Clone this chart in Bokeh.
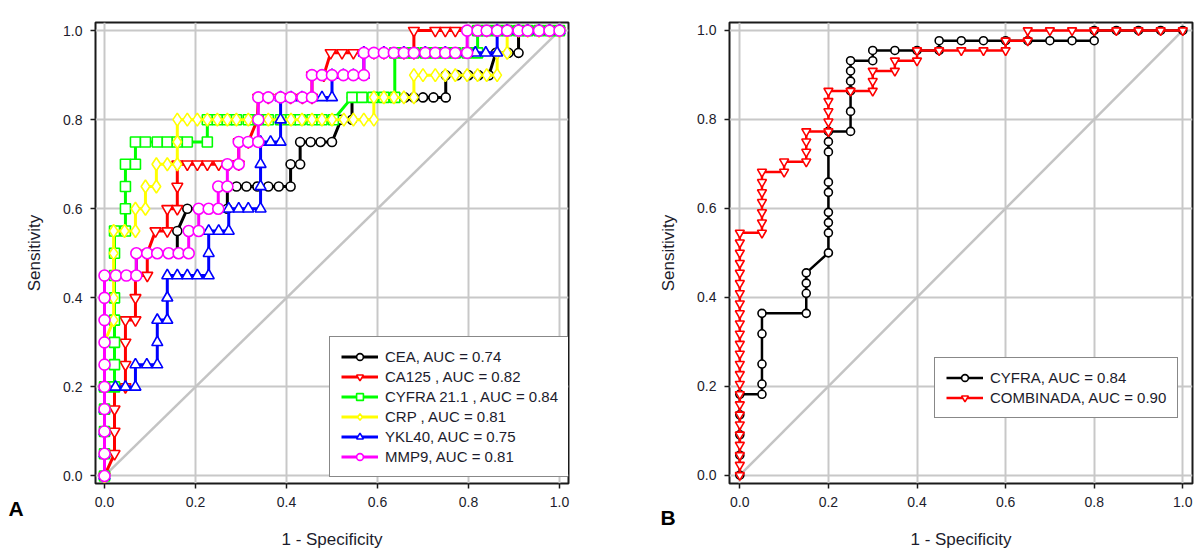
from bokeh.plotting import figure
from bokeh.models import (Range1d, FixedTicker, Legend, LegendItem, Div,
                          NumeralTickFormatter, GridBox)
from bokeh.embed import file_html
from bokeh.resources import INLINE

FONT = "Liberation Sans"
TXT = "#1c1c2c"
TICKS = [0.0, 0.2, 0.4, 0.6, 0.8, 1.0]
DIAG_X = [0.0, 1.0]
DIAG_Y = [0.0, 1.0]

# ---------------- Panel A ----------------
CEA_X = [0, 0, 0, 0, 0, 0, 0, 0, 0, 0,
         0.07, 0.07, 0.116, 0.16, 0.16, 0.182, 0.207, 0.229, 0.25, 0.27,
         0.27, 0.29, 0.312, 0.336, 0.36, 0.383, 0.409, 0.409, 0.43, 0.43,
         0.453, 0.475, 0.5, 0.52, 0.544, 0.544, 0.566, 0.59, 0.614, 0.636,
         0.66, 0.68, 0.70, 0.723, 0.75, 0.75, 0.775, 0.80, 0.822, 0.845,
         0.86, 0.888, 0.91, 0.91, 0.955, 1.0]
CEA_Y = [0, 0.05, 0.1, 0.15, 0.2, 0.25, 0.3, 0.35, 0.4, 0.45,
         0.45, 0.5, 0.5, 0.5, 0.55, 0.6, 0.6, 0.6, 0.6, 0.6,
         0.65, 0.65, 0.65, 0.65, 0.65, 0.65, 0.65, 0.7, 0.7, 0.75,
         0.75, 0.75, 0.75, 0.8, 0.8, 0.85, 0.85, 0.85, 0.85, 0.85,
         0.85, 0.85, 0.85, 0.85, 0.85, 0.9, 0.9, 0.9, 0.9, 0.9,
         0.95, 0.95, 0.95, 1.0, 1.0, 1.0]

CA125_X = [0, 0.022, 0.022, 0.022, 0.022, 0.046, 0.046, 0.046, 0.046, 0.068,
           0.068, 0.068, 0.094, 0.094, 0.112, 0.138, 0.138, 0.16, 0.16, 0.16,
           0.182, 0.204, 0.226, 0.251, 0.273, 0.295, 0.295, 0.316, 0.336, 0.338,
           0.36, 0.387, 0.409, 0.435, 0.456, 0.456, 0.482, 0.497, 0.522, 0.547,
           0.57, 0.592, 0.614, 0.636, 0.658, 0.68, 0.68, 0.727, 0.749, 0.771,
           0.797, 0.82, 0.84, 0.863, 0.885, 0.91, 0.93, 0.955, 0.978, 1.0]
CA125_Y = [0, 0.05, 0.1, 0.15, 0.2, 0.2, 0.25, 0.3, 0.35, 0.35,
           0.4, 0.45, 0.45, 0.5, 0.55, 0.55, 0.6, 0.6, 0.65, 0.7,
           0.7, 0.7, 0.7, 0.7, 0.7, 0.7, 0.75, 0.75, 0.8, 0.85,
           0.85, 0.85, 0.85, 0.85, 0.85, 0.9, 0.9, 0.95, 0.95, 0.95,
           0.95, 0.95, 0.95, 0.95, 0.95, 0.95, 1.0, 1.0, 1.0, 1.0,
           1.0, 1.0, 1.0, 1.0, 1.0, 1.0, 1.0, 1.0, 1.0, 1.0]

CYFRA_X = [0, 0, 0, 0, 0, 0.022, 0.022, 0.022, 0.022, 0.022,
           0.022, 0.022, 0.022, 0.046, 0.046, 0.046, 0.046, 0.068, 0.068, 0.09,
           0.116, 0.138, 0.16, 0.182, 0.226, 0.226, 0.248, 0.27, 0.29, 0.316,
           0.338, 0.36, 0.387, 0.41, 0.43, 0.456, 0.478, 0.503, 0.544, 0.566,
           0.59, 0.614, 0.638, 0.638, 0.66, 0.68, 0.705, 0.727, 0.749, 0.771,
           0.797, 0.82, 0.82, 0.84, 0.863, 0.885, 0.91, 0.93, 0.955, 0.978,
           1.0]
CYFRA_Y = [0, 0.05, 0.1, 0.15, 0.2, 0.2, 0.25, 0.3, 0.35, 0.4,
           0.45, 0.5, 0.55, 0.55, 0.6, 0.65, 0.7, 0.7, 0.75, 0.75,
           0.75, 0.75, 0.75, 0.75, 0.75, 0.8, 0.8, 0.8, 0.8, 0.8,
           0.8, 0.8, 0.8, 0.8, 0.8, 0.8, 0.8, 0.8, 0.85, 0.85,
           0.85, 0.85, 0.85, 0.95, 0.95, 0.95, 0.95, 0.95, 0.95, 0.95,
           0.95, 0.95, 1.0, 1.0, 1.0, 1.0, 1.0, 1.0, 1.0, 1.0,
           1.0]

CRP_X = [0, 0, 0, 0, 0, 0, 0, 0.02, 0.02, 0.02,
         0.02, 0.02, 0.044, 0.068, 0.068, 0.09, 0.09, 0.114, 0.114, 0.138,
         0.16, 0.16, 0.16, 0.182, 0.204, 0.226, 0.248, 0.27, 0.29, 0.316,
         0.338, 0.36, 0.387, 0.41, 0.434, 0.456, 0.478, 0.5, 0.526, 0.547,
         0.57, 0.592, 0.592, 0.614, 0.636, 0.658, 0.68, 0.68, 0.70, 0.727,
         0.749, 0.771, 0.797, 0.82, 0.84, 0.863, 0.863, 0.885, 0.885, 0.91,
         0.93, 0.955, 0.978, 1.0]
CRP_Y = [0, 0.05, 0.1, 0.15, 0.2, 0.25, 0.3, 0.35, 0.4, 0.45,
         0.5, 0.55, 0.55, 0.55, 0.6, 0.6, 0.65, 0.65, 0.7, 0.7,
         0.7, 0.75, 0.8, 0.8, 0.8, 0.8, 0.8, 0.8, 0.8, 0.8,
         0.8, 0.8, 0.8, 0.8, 0.8, 0.8, 0.8, 0.8, 0.8, 0.8,
         0.8, 0.8, 0.85, 0.85, 0.85, 0.85, 0.85, 0.9, 0.9, 0.9,
         0.9, 0.9, 0.9, 0.9, 0.9, 0.9, 0.95, 0.95, 1.0, 1.0,
         1.0, 1.0, 1.0, 1.0]

YKL40_X = [0, 0, 0, 0, 0, 0.024, 0.046, 0.068, 0.068, 0.093,
           0.116, 0.116, 0.116, 0.138, 0.138, 0.138, 0.16, 0.182, 0.204, 0.229,
           0.229, 0.229, 0.251, 0.273, 0.273, 0.295, 0.316, 0.343, 0.343, 0.343,
           0.343, 0.365, 0.387, 0.387, 0.387, 0.41, 0.434, 0.456, 0.478, 0.5,
           0.5, 0.525, 0.547, 0.57, 0.57, 0.614, 0.658, 0.705, 0.749, 0.797,
           0.815, 0.838, 0.863, 0.863, 0.885, 0.91, 0.93, 0.955, 0.978, 1.0]
YKL40_Y = [0, 0.05, 0.1, 0.15, 0.2, 0.2, 0.2, 0.2, 0.25, 0.25,
           0.25, 0.3, 0.35, 0.35, 0.4, 0.45, 0.45, 0.45, 0.45, 0.45,
           0.5, 0.55, 0.55, 0.55, 0.6, 0.6, 0.6, 0.6, 0.65, 0.7,
           0.75, 0.75, 0.75, 0.8, 0.85, 0.85, 0.85, 0.85, 0.85, 0.85,
           0.9, 0.9, 0.9, 0.9, 0.95, 0.95, 0.95, 0.95, 0.95, 0.95,
           0.95, 0.95, 0.95, 1.0, 1.0, 1.0, 1.0, 1.0, 1.0, 1.0]

MMP9_X = [0, 0, 0, 0, 0, 0, 0, 0, 0, 0,
          0.025, 0.048, 0.07, 0.07, 0.094, 0.116, 0.141, 0.163, 0.185, 0.185,
          0.207, 0.207, 0.229, 0.25, 0.25, 0.27, 0.27, 0.295, 0.295, 0.316,
          0.338, 0.338, 0.338, 0.36, 0.387, 0.409, 0.435, 0.456, 0.456, 0.478,
          0.5, 0.525, 0.547, 0.57, 0.57, 0.592, 0.614, 0.636, 0.658, 0.68,
          0.705, 0.727, 0.749, 0.771, 0.797, 0.797, 0.82, 0.84, 0.863, 0.885,
          0.91, 0.93, 0.955, 0.978, 1.0]
MMP9_Y = [0, 0.05, 0.1, 0.15, 0.2, 0.25, 0.3, 0.35, 0.4, 0.45,
          0.45, 0.45, 0.45, 0.5, 0.5, 0.5, 0.5, 0.5, 0.5, 0.55,
          0.55, 0.6, 0.6, 0.6, 0.65, 0.65, 0.7, 0.7, 0.75, 0.75,
          0.75, 0.8, 0.85, 0.85, 0.85, 0.85, 0.85, 0.85, 0.9, 0.9,
          0.9, 0.9, 0.9, 0.9, 0.95, 0.95, 0.95, 0.95, 0.95, 0.95,
          0.95, 0.95, 0.95, 0.95, 0.95, 1.0, 1.0, 1.0, 1.0, 1.0,
          1.0, 1.0, 1.0, 1.0, 1.0]

A_LABELS = ["CEA, AUC = 0.74", "CA125 , AUC = 0.82", "CYFRA 21.1 , AUC = 0.84",
            "CRP , AUC = 0.81", "YKL40, AUC = 0.75", "MMP9, AUC = 0.81"]
A_COLORS = ["#000000", "#ff0000", "#00ff00", "#ffff00", "#0000ff", "#ff00ff"]
A_MARKERS = ["circle", "inverted_triangle", "square", "diamond", "triangle", "circle"]
A_SIZES = [9, 11, 10, 13, 11, 11]
A_SERIES = [(CEA_X, CEA_Y), (CA125_X, CA125_Y), (CYFRA_X, CYFRA_Y),
            (CRP_X, CRP_Y), (YKL40_X, YKL40_Y), (MMP9_X, MMP9_Y)]

# ---------------- Panel B ----------------
CYFRA_B_X = [0, 0, 0, 0, 0, 0.05, 0.05, 0.05, 0.05, 0.05,
             0.15, 0.15, 0.15, 0.15, 0.2, 0.2, 0.2, 0.2, 0.2, 0.2,
             0.2, 0.2, 0.2, 0.25, 0.25, 0.25, 0.25, 0.25, 0.25, 0.3,
             0.3, 0.35, 0.4, 0.45, 0.45, 0.5, 0.55, 0.6, 0.65, 0.7,
             0.75, 0.8, 0.8, 0.85, 0.9, 0.95, 1.0]
CYFRA_B_Y = [0, 0.045, 0.091, 0.136, 0.182, 0.182, 0.205, 0.25, 0.318, 0.364,
             0.364, 0.409, 0.432, 0.455, 0.5, 0.545, 0.568, 0.591, 0.636, 0.659,
             0.727, 0.75, 0.773, 0.773, 0.818, 0.864, 0.886, 0.909, 0.932, 0.932,
             0.955, 0.955, 0.955, 0.955, 0.977, 0.977, 0.977, 0.977, 0.977, 0.977,
             0.977, 0.977, 1.0, 1.0, 1.0, 1.0, 1.0]

COMB_X = [0, 0, 0, 0, 0, 0, 0, 0, 0, 0,
          0, 0, 0, 0, 0, 0, 0, 0, 0, 0,
          0, 0, 0, 0, 0,
          0.05, 0.05, 0.05, 0.05, 0.05, 0.05, 0.05,
          0.1, 0.1,
          0.15, 0.15, 0.15, 0.15,
          0.2, 0.2, 0.2, 0.2, 0.2,
          0.25,
          0.3, 0.3, 0.3,
          0.35, 0.35,
          0.4, 0.4,
          0.45, 0.5, 0.55,
          0.6, 0.6,
          0.65, 0.65,
          0.7, 0.75, 0.8, 0.85, 0.9, 0.95, 1.0]
COMB_Y = [0, 0.023, 0.045, 0.068, 0.091, 0.114, 0.136, 0.159, 0.182, 0.205,
          0.227, 0.25, 0.273, 0.295, 0.318, 0.341, 0.364, 0.386, 0.409, 0.432,
          0.455, 0.477, 0.5, 0.523, 0.545,
          0.545, 0.568, 0.591, 0.614, 0.636, 0.659, 0.682,
          0.682, 0.705,
          0.705, 0.727, 0.75, 0.773,
          0.773, 0.795, 0.818, 0.841, 0.864,
          0.864,
          0.864, 0.886, 0.909,
          0.909, 0.932,
          0.932, 0.955,
          0.955, 0.955, 0.955,
          0.955, 0.977,
          0.977, 1.0,
          1.0, 1.0, 1.0, 1.0, 1.0, 1.0, 1.0]

B_LABELS = ["CYFRA, AUC = 0.84", "COMBINADA, AUC = 0.90"]
B_COLORS = ["#000000", "#ff0000"]
B_MARKERS = ["circle", "inverted_triangle"]
B_SIZES = [8, 9]
B_SERIES = [(CYFRA_B_X, CYFRA_B_Y), (COMB_X, COMB_Y)]

PANEL_TAGS = ["A", "B"]


def make_panel(width, mb, xr, yr, series, labels, colors, markers, sizes, lw,
               legend_loc):
    p = figure(width=width, height=552, output_backend="svg", toolbar_location=None,
               x_range=Range1d(*xr), y_range=Range1d(*yr),
               min_border_left=mb[0], min_border_right=mb[1],
               min_border_top=mb[2], min_border_bottom=mb[3])
    p.background_fill_color = "white"
    p.border_fill_color = "white"
    p.outline_line_color = "#1a1a1a"
    p.outline_line_width = 2
    for ax in (p.xaxis, p.yaxis):
        ax.ticker = FixedTicker(ticks=TICKS)
        ax.formatter = NumeralTickFormatter(format="0.0")
        ax.minor_tick_line_color = None
        ax.major_tick_out = 5
        ax.major_tick_in = 0
        ax.major_tick_line_color = "#1a1a1a"
        ax.major_tick_line_width = 1.5
        ax.axis_line_color = None
        ax.major_label_text_font = FONT
        ax.major_label_text_font_size = "14px"
        ax.major_label_text_color = TXT
        ax.axis_label_text_font = FONT
        ax.axis_label_text_font_size = "17px"
        ax.axis_label_text_font_style = "normal"
        ax.axis_label_text_color = TXT
    p.xaxis.axis_label = "1 - Specificity"
    p.yaxis.axis_label = "Sensitivity"
    p.xaxis.major_label_standoff = 8
    p.yaxis.major_label_standoff = 8
    p.xaxis.axis_label_standoff = 20
    p.yaxis.axis_label_standoff = 16
    p.grid.grid_line_color = "#c8c8c8"
    p.grid.grid_line_width = 2

    p.line(DIAG_X, DIAG_Y, line_color="#c4c4c4", line_width=2.5)

    items = []
    for (xs, ys), lab, col, mk, sz in zip(series, labels, colors, markers, sizes):
        r1 = p.line(xs, ys, line_color=col, line_width=lw)
        r2 = p.scatter(xs, ys, marker=mk, size=sz, line_color=col,
                       fill_color="white", line_width=1.6)
        items.append(LegendItem(label=lab, renderers=[r1, r2]))

    leg = Legend(items=items, location=legend_loc)
    leg.border_line_color = "#111111"
    leg.border_line_width = 1.5
    leg.background_fill_color = "white"
    leg.background_fill_alpha = 1.0
    leg.label_text_font = FONT
    leg.label_text_font_size = "15px"
    leg.label_text_color = TXT
    leg.glyph_width = 37
    leg.glyph_height = 17
    leg.label_height = 17
    leg.label_standoff = 7
    leg.spacing = 3
    leg.padding = 11
    leg.margin = 0
    p.add_layout(leg)
    return p


pa = make_panel(600, (95, 32, 11, 69), (-0.0198, 1.0198), (-0.0169, 1.0182),
                A_SERIES, A_LABELS, A_COLORS, A_MARKERS, A_SIZES, 3, (234, 6))
pb = make_panel(598, (129, 6, 22, 67), (-0.0233, 1.0219), (-0.0186, 1.0179),
                B_SERIES, B_LABELS, B_COLORS, B_MARKERS, B_SIZES, 2.5, (205, 65))

# transparent HTML overlay over both panels, holding only the panel tags A / B
tag_style = ("position:absolute;width:30px;text-align:center;line-height:21px;"
             "font-family:'Liberation Sans',Arial,sans-serif;font-size:21px;"
             "font-weight:bold;color:#000;")
tag_html = ('<div style="position:relative;width:1198px;height:552px;">'
            + "".join('<div style="%sleft:%dpx;top:%dpx;">%s</div>' % (tag_style, lx, ty, t)
                      for t, lx, ty in zip(PANEL_TAGS, [1, 653], [498, 507]))
            + "</div>")
ov = Div(text=tag_html, width=1198, height=552, margin=0)

grid = GridBox(children=[(pa, 0, 0), (pb, 0, 1), (ov, 0, 0, 1, 2)])
open("out.html", "w").write(file_html(grid, INLINE))
